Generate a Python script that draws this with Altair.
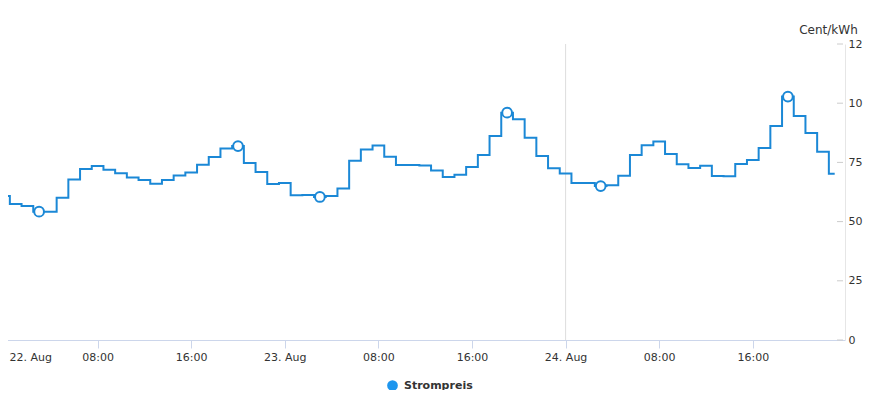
import altair as alt
import pandas as pd

# hourly electricity price, 22 Aug 00:00 .. 24 Aug 23:00 (Cent/kWh)
values = [6.08, 5.74, 5.66, 5.42, 5.42, 6.01, 6.78, 7.22, 7.35, 7.19, 7.04, 6.86,
          6.76, 6.60, 6.76, 6.95, 7.07, 7.40, 7.73, 8.09, 8.19, 7.47, 7.09, 6.59,
          6.63, 6.11, 6.12, 6.04, 6.08, 6.40, 7.57, 8.05, 8.21, 7.74, 7.39, 7.39,
          7.37, 7.16, 6.88, 6.98, 7.31, 7.81, 8.61, 9.60, 9.32, 8.54, 7.77, 7.25,
          7.03, 6.63, 6.63, 6.50, 6.53, 6.94, 7.81, 8.22, 8.38, 7.85, 7.42, 7.26,
          7.36, 6.93, 6.92, 7.43, 7.60, 8.11, 9.04, 10.28, 9.46, 8.74, 7.95, 7.02]
marker_hours = [3, 20, 27, 43, 51, 67]
x_tick_hours = [0, 8, 16, 24, 32, 40, 48, 56, 64]
y_ticks = [0, 2.5, 5, 7.5, 10, 12.5]
series_name = "Strompreis"

HOUR = 3600 * 1000
base = int(pd.Timestamp("2023-08-22T00:00:00Z").value // 10**6)

df = pd.DataFrame({
    "t": [base + i * HOUR for i in range(len(values))],
    "v": values,
    "s": [series_name] * len(values),
})
mk = df.iloc[marker_hours].copy()
ticks_df = pd.DataFrame({"v": y_ticks})

BLUE = "#1b88d6"
FONT = "DejaVu Sans"
W, H = 845, 296
PX_PER_H = 11.7
d0 = base - int(4 / PX_PER_H * HOUR)
d1 = base + int((W - 4) / PX_PER_H * HOUR)

xscale = alt.Scale(type="utc", domain=[d0, d1])
yscale = alt.Scale(domain=[0, 12.5], nice=False, zero=True)

x_axis = alt.Axis(
    values=[base + h * HOUR for h in x_tick_hours],
    labelExpr="utcFormat(datum.value, '%H:%M') == '00:00' ? utcFormat(datum.value, '%d. %b') : utcFormat(datum.value, '%H:%M')",
    title=None, grid=False, tickSize=8, tickColor="#ccd6eb", domainColor="#ccd6eb",
    labelColor="#333333", labelFont=FONT, labelFontSize=11, labelPadding=3,
    labelFlush=6, labelFlushOffset=-5,
)
y_axis = alt.Axis(
    orient="right", values=y_ticks,
    labelExpr="datum.value == 0 ? '0' : substring(replace(format(datum.value, '.1f'), '.', ''), 0, 2)",
    ticks=False, grid=False, domainColor="#e6e6e6", labelPadding=3,
    labelColor="#333333", labelFont=FONT, labelFontSize=11, labelBaseline="middle",
    title="Cent/kWh", titleAngle=0, titleX=-17, titleY=-15, titleAlign="center",
    titleBaseline="middle", titleFontWeight="normal", titleFontSize=12,
    titleColor="#333333", titleFont=FONT,
)

line = alt.Chart(df).mark_line(interpolate="step", strokeWidth=2).encode(
    x=alt.X("t:T", scale=xscale, axis=x_axis),
    y=alt.Y("v:Q", scale=yscale, axis=y_axis),
    color=alt.Color("s:N", scale=alt.Scale(range=[BLUE]), legend=alt.Legend(
        orient="none", legendX=387, legendY=336, title=None, symbolType="circle",
        symbolSize=115, symbolFillColor="#1e96ee", symbolStrokeWidth=0,
        labelFont=FONT, labelFontSize=11, labelFontWeight="bold",
        labelColor="#333333", padding=0, labelOffset=6)),
)

points = alt.Chart(mk).mark_point(filled=True, fill="white", stroke=BLUE,
                                   strokeWidth=2, size=95, opacity=1).encode(
    x=alt.X("t:T", scale=xscale, axis=x_axis),
    y=alt.Y("v:Q", scale=yscale, axis=y_axis),
)

vline = alt.Chart(pd.DataFrame({"t": [base + 48 * HOUR]})).mark_rule(
    color="#dddddd", strokeWidth=1).encode(x=alt.X("t:T", scale=xscale, axis=x_axis))

yticks = alt.Chart(ticks_df).mark_rule(color="#cccccc", strokeWidth=1).encode(
    y=alt.Y("v:Q", scale=yscale, axis=y_axis),
    x=alt.value(W - 8), x2=alt.value(W - 2),
)

chart = alt.layer(vline, line, points, yticks).properties(
    width=W, height=H,
    autosize=alt.AutoSizeParams(type="none"),
    padding={"left": -8, "top": 36, "right": 19, "bottom": 50},
    background="white",
).configure_view(stroke=None)

chart.save("out.html", embed_options={"renderer": "svg", "actions": False})
